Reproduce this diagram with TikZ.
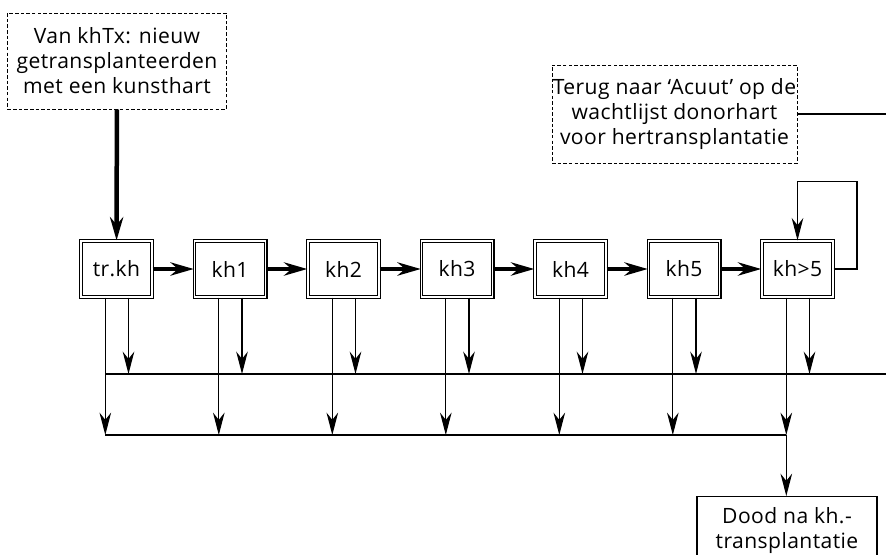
\documentclass[tikz,border=0pt]{standalone}
\usepackage{fontspec}
\setmainfont{Open Sans}[LetterSpace=2]
\usetikzlibrary{positioning, arrows.meta}

\begin{document}
\begin{tikzpicture}[
    font=\fontsize{15}{17.8}\selectfont,
    state/.style={draw, double, line width=0.9pt, double distance=0.9pt,
                  minimum width=1.78cm, minimum height=1.4cm, inner sep=0pt},
    note/.style={draw, line width=0.7pt, dash pattern=on 2.5pt off 1.5pt,
                 align=center, inner sep=0pt},
    endbox/.style={draw, line width=0.9pt, align=center, minimum width=4.5cm,
                   inner sep=0pt},
    flow/.style={line width=3.2pt, -{Stealth[length=5.8mm, width=3.3mm]}},
    sub/.style={line width=0.8pt, -{Stealth[length=5.6mm, width=2.9mm]}},
    plain/.style={line width=0.8pt}
  ]
    % page frame
    \useasboundingbox (0,0) rectangle (22.15,-13.85);
    \clip (0,0) rectangle (22.15,-13.85);

    % incoming and return notes
    \node[note, minimum width=5.475cm, minimum height=2.4cm] (src) at (2.925,-1.525)
        {Van khTx: nieuw\\getransplanteerden\\met een kunsthart};
    \node[note, minimum width=6.125cm, minimum height=2.45cm] (back) at (16.8625,-2.85)
        {Terug naar ‘Acuut’ op de\\wachtlijst donorhart\\voor hertransplantatie};

    % chain of states after the kunsthart transplant
    \foreach \i/\lab in {0/tr.kh, 1/kh1, 2/kh2, 3/kh3, 4/kh4, 5/kh5, 6/kh>5}{
        \node[state] (s\i) at (2.9125+\i*2.8375,-6.725) {\lab};
        \coordinate (l\i) at ([xshift=-0.28cm]s\i.south);
        \coordinate (r\i) at ([xshift=0.3cm]s\i.south);
    }
    \draw[flow] (src) -- (s0);
    \foreach \i [count=\j] in {0,...,5}{
        \draw[flow] (s\i) -- (s\j);
    }

    % stay in kh>5
    \coordinate (loop) at (21.425,-4.54);
    \draw[sub] (s6.east) -| (loop) -| (s6.north);

    % collecting lines
    \coordinate (up) at (22.15,-9.35);
    \coordinate (low) at (0,-10.875);
    \coordinate (edge) at (22.15,0);
    \foreach \i in {0,...,6}{
        \draw[sub] (r\i) -- (r\i |- up);
        \draw[sub] (l\i) -- (l\i |- low);
    }
    \draw[plain] (l0 |- up) -- (up);
    \draw[plain] (l0 |- low) -- (l6 |- low);
    \draw[plain] (back.east) -- (back.east -| edge);

    % death after transplant
    \node[endbox, anchor=north, minimum height=2.0cm] (dood) at (19.675,-12.4) {};
    \node[align=center, inner sep=0pt] (doodtxt) at (19.675,-13.27)
        {Dood na kh.-\\transplantatie};
    \draw[sub] (l6 |- low) -- (l6 |- dood.north);
\end{tikzpicture}
\end{document}
